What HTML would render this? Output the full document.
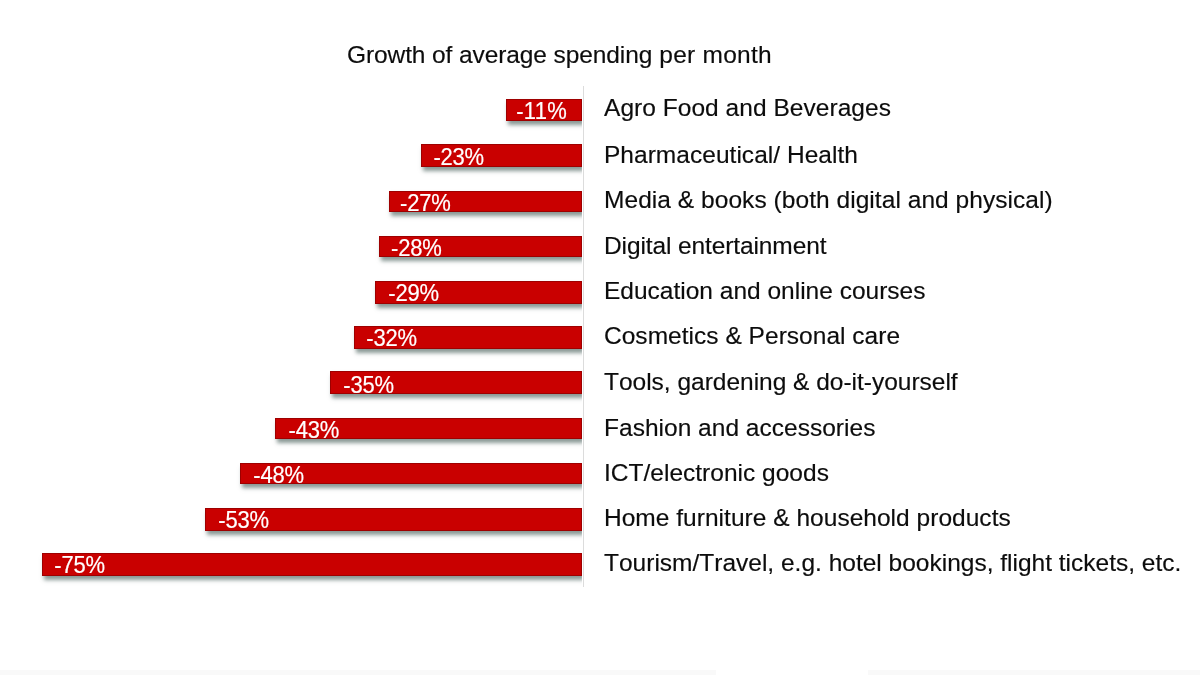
<!DOCTYPE html>
<html><head><meta charset="utf-8">
<style>
html,body{margin:0;padding:0;background:#fff;}
body{width:1200px;height:675px;position:relative;overflow:hidden;font-family:"Liberation Sans",Arial,sans-serif;color:#0c0c0c;}
.t{position:absolute;white-space:nowrap;font-kerning:none;-webkit-text-stroke:0.15px #0c0c0c;line-height:30px;height:30px;font-size:24.5px;letter-spacing:0px;}
#title{left:347.0px;top:40px;letter-spacing:0px;}
.axis{position:absolute;left:582.5px;top:86px;width:1px;height:501px;background:#dcdcdc;}
.plot{position:absolute;left:0;top:80px;width:582.4px;height:520px;overflow:hidden;}
.bar{position:absolute;background:#c90000;box-sizing:border-box;border:1px solid #9e0000;box-shadow:2px 4px 4px rgba(60,85,80,.6);}
.v{position:absolute;color:#fff;-webkit-text-stroke:0.2px #fff;transform-origin:0 100%;transform:scaleY(1.06);font-size:22px;letter-spacing:-0.2px;line-height:26px;height:26px;white-space:nowrap;}
.lab{left:602.2px;}
.ft{position:absolute;top:670px;height:5px;background:#f9f9f9;}
</style></head><body>
<div id="title" class="t"><span style="letter-spacing:-0.1px">Growth of average spending</span><span style="letter-spacing:0.25px"> per month</span></div>
<div class="plot">
<div class="bar" style="left:506.0px;top:18.7px;width:76.2px;height:22.6px"></div>
<div class="bar" style="left:420.7px;top:63.6px;width:161.5px;height:23.5px"></div>
<div class="bar" style="left:389.1px;top:110.7px;width:193.1px;height:21.0px"></div>
<div class="bar" style="left:378.9px;top:156.0px;width:203.3px;height:21.1px"></div>
<div class="bar" style="left:375.3px;top:200.7px;width:206.9px;height:23.0px"></div>
<div class="bar" style="left:354.0px;top:246.0px;width:228.2px;height:22.9px"></div>
<div class="bar" style="left:330.4px;top:290.9px;width:251.8px;height:23.1px"></div>
<div class="bar" style="left:275.3px;top:337.6px;width:306.9px;height:21.7px"></div>
<div class="bar" style="left:240.3px;top:382.7px;width:341.9px;height:21.7px"></div>
<div class="bar" style="left:205.1px;top:428.0px;width:377.1px;height:22.7px"></div>
<div class="bar" style="left:42.0px;top:473.1px;width:540.2px;height:22.9px"></div>
</div>
<div class="axis"></div>
<div class="v" style="left:516.3px;top:98.7px;letter-spacing:0.25px">-11%</div>
<div class="v" style="left:433.4px;top:145.3px">-23%</div>
<div class="v" style="left:400.1px;top:190.7px">-27%</div>
<div class="v" style="left:391.0px;top:236.0px">-28%</div>
<div class="v" style="left:388.3px;top:280.9px">-29%</div>
<div class="v" style="left:366.3px;top:326.3px">-32%</div>
<div class="v" style="left:343.3px;top:372.7px">-35%</div>
<div class="v" style="left:288.6px;top:417.7px">-43%</div>
<div class="v" style="left:253.3px;top:462.7px">-48%</div>
<div class="v" style="left:218.3px;top:508.0px">-53%</div>
<div class="v" style="left:54.3px;top:553.3px">-75%</div>
<div class="t lab" style="left:604.00px;top:93.4px;letter-spacing:0.041px">Agro Food and Beverages</div>
<div class="t lab" style="left:604.00px;top:140.3px;letter-spacing:0.029px">Pharmaceutical/ Health</div>
<div class="t lab" style="left:604.00px;top:185.3px;letter-spacing:0.050px">Media &amp; books (both digital and physical)</div>
<div class="t lab" style="left:604.00px;top:230.7px;letter-spacing:-0.110px">Digital entertainment</div>
<div class="t lab" style="left:604.00px;top:275.7px;letter-spacing:0.000px">Education and online courses</div>
<div class="t lab" style="left:604.00px;top:320.6px;letter-spacing:0.025px">Cosmetics &amp; Personal care</div>
<div class="t lab" style="left:604.00px;top:367.4px;letter-spacing:-0.013px">Tools, gardening &amp; do-it-yourself</div>
<div class="t lab" style="left:604.00px;top:412.7px;letter-spacing:0.018px">Fashion and accessories</div>
<div class="t lab" style="left:604.00px;top:457.7px;letter-spacing:0.011px">ICT/electronic goods</div>
<div class="t lab" style="left:604.00px;top:503.0px;letter-spacing:0.026px">Home furniture &amp; household products</div>
<div class="t lab" style="left:604.00px;top:548.1px;letter-spacing:0.000px">Tourism/Travel, e.g. hotel bookings, flight tickets, etc.</div>
<div class="ft" style="left:0;width:716px"></div><div class="ft" style="left:868px;width:332px"></div>
</body></html>
